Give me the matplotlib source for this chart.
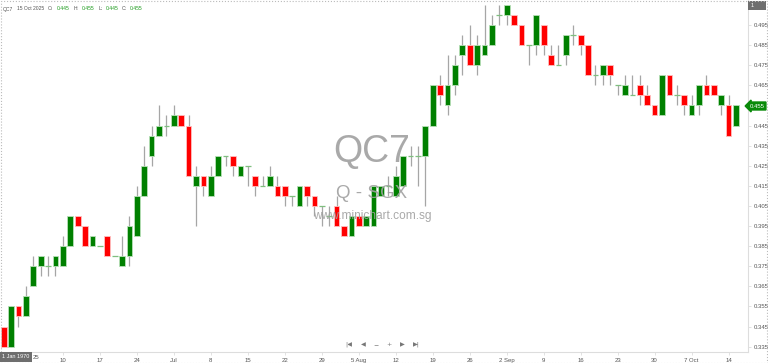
import matplotlib
matplotlib.use("Agg")
import matplotlib.pyplot as plt
from matplotlib.patches import Rectangle
import pandas as pd

plt.rcParams['font.family'] = ['Liberation Sans', 'DejaVu Sans']

dates = pd.bdate_range("2025-05-29", "2025-10-15")

opens = [0.345, 0.335, 0.355, 0.350, 0.365, 0.375, 0.375, 0.375, 0.375, 0.385,
         0.400, 0.395, 0.385, 0.385, 0.390, 0.380, 0.375, 0.380, 0.390, 0.410,
         0.430, 0.440, 0.445, 0.445, 0.450, 0.445, 0.415, 0.420, 0.410, 0.420,
         0.430, 0.430, 0.420, 0.425, 0.420, 0.415, 0.415, 0.415, 0.415, 0.410,
         0.405, 0.415, 0.410, 0.405, 0.400, 0.405, 0.395, 0.390, 0.400, 0.395,
         0.395, 0.410, 0.415, 0.410, 0.415, 0.430, 0.430, 0.430, 0.445, 0.465,
         0.455, 0.465, 0.480, 0.485, 0.475, 0.480, 0.485, 0.500, 0.500, 0.500,
         0.495, 0.485, 0.485, 0.495, 0.480, 0.475, 0.480, 0.490, 0.490, 0.485,
         0.470, 0.470, 0.475, 0.465, 0.460, 0.460, 0.465, 0.460, 0.455, 0.450,
         0.470, 0.460, 0.460, 0.450, 0.455, 0.465, 0.465, 0.455, 0.455, 0.445]
highs = [0.345, 0.355, 0.355, 0.365, 0.380, 0.380, 0.380, 0.380, 0.390, 0.400,
         0.400, 0.395, 0.390, 0.385, 0.390, 0.380, 0.390, 0.400, 0.415, 0.435,
         0.445, 0.455, 0.450, 0.455, 0.450, 0.450, 0.425, 0.420, 0.425, 0.430,
         0.430, 0.430, 0.425, 0.425, 0.420, 0.420, 0.425, 0.420, 0.415, 0.410,
         0.415, 0.415, 0.410, 0.405, 0.405, 0.410, 0.395, 0.400, 0.400, 0.400,
         0.415, 0.415, 0.420, 0.425, 0.430, 0.435, 0.435, 0.445, 0.465, 0.470,
         0.480, 0.480, 0.490, 0.495, 0.490, 0.505, 0.500, 0.505, 0.505, 0.500,
         0.495, 0.485, 0.500, 0.495, 0.485, 0.485, 0.490, 0.495, 0.490, 0.485,
         0.475, 0.475, 0.475, 0.465, 0.470, 0.470, 0.470, 0.465, 0.455, 0.470,
         0.470, 0.465, 0.460, 0.460, 0.465, 0.470, 0.465, 0.460, 0.460, 0.455]
lows = [0.335, 0.335, 0.345, 0.350, 0.365, 0.370, 0.370, 0.370, 0.375, 0.385,
        0.395, 0.385, 0.385, 0.385, 0.380, 0.380, 0.375, 0.375, 0.390, 0.410,
        0.425, 0.440, 0.440, 0.445, 0.445, 0.420, 0.395, 0.410, 0.410, 0.420,
        0.425, 0.420, 0.420, 0.415, 0.410, 0.415, 0.415, 0.410, 0.405, 0.405,
        0.405, 0.405, 0.400, 0.395, 0.395, 0.395, 0.390, 0.390, 0.395, 0.395,
        0.395, 0.410, 0.410, 0.410, 0.415, 0.425, 0.415, 0.405, 0.445, 0.455,
        0.450, 0.460, 0.470, 0.475, 0.470, 0.480, 0.485, 0.495, 0.495, 0.495,
        0.485, 0.475, 0.480, 0.480, 0.475, 0.475, 0.475, 0.485, 0.480, 0.470,
        0.465, 0.465, 0.465, 0.460, 0.460, 0.460, 0.455, 0.455, 0.450, 0.450,
        0.460, 0.455, 0.450, 0.450, 0.450, 0.460, 0.460, 0.450, 0.440, 0.445]
closes = [0.335, 0.355, 0.350, 0.360, 0.375, 0.380, 0.375, 0.380, 0.385, 0.400,
          0.395, 0.385, 0.390, 0.385, 0.380, 0.380, 0.380, 0.395, 0.410, 0.425,
          0.440, 0.445, 0.445, 0.450, 0.445, 0.420, 0.420, 0.415, 0.420, 0.430,
          0.430, 0.425, 0.425, 0.425, 0.415, 0.415, 0.420, 0.410, 0.410, 0.410,
          0.415, 0.410, 0.405, 0.405, 0.400, 0.395, 0.390, 0.400, 0.395, 0.400,
          0.415, 0.415, 0.415, 0.420, 0.430, 0.430, 0.430, 0.445, 0.465, 0.460,
          0.465, 0.475, 0.485, 0.475, 0.485, 0.485, 0.495, 0.500, 0.505, 0.495,
          0.485, 0.485, 0.500, 0.485, 0.475, 0.475, 0.490, 0.490, 0.485, 0.470,
          0.470, 0.475, 0.470, 0.465, 0.465, 0.460, 0.460, 0.455, 0.450, 0.470,
          0.460, 0.460, 0.455, 0.455, 0.465, 0.460, 0.460, 0.460, 0.440, 0.455]

tick_dates = ["2025-06-10", "2025-06-17", "2025-06-24", "2025-07-01",
              "2025-07-08", "2025-07-15", "2025-07-22", "2025-07-29", "2025-08-05",
              "2025-08-12", "2025-08-19", "2025-08-26", "2025-09-02", "2025-09-09",
              "2025-09-16", "2025-09-23", "2025-09-30", "2025-10-07", "2025-10-14"]
tick_labels = ["10", "17", "24", "Jul", "8", "15", "22", "29", "5 Aug",
               "12", "19", "26", "2 Sep", "9", "16", "23", "30", "7 Oct", "14"]
price_ticks = [0.335, 0.345, 0.355, 0.365, 0.375, 0.385, 0.395, 0.405, 0.415, 0.425,
               0.435, 0.445, 0.455, 0.465, 0.475, 0.485, 0.495]
last_price = 0.455

W, H = 768, 363
fig = plt.figure(figsize=(W / 100, H / 100), dpi=100)
ax = fig.add_axes([0, 11 / H, 747.7 / W, 352 / H])

def px(x, y):
    return x / W, 1 - y / H

GREEN = '#008000'
RED = '#ff0000'
bw = 0.77
for i in range(len(dates)):
    o, h, l, c = opens[i], highs[i], lows[i], closes[i]
    ax.vlines(i, l, h, color='#a6a6a6', lw=0.9, zorder=1)
    if o == c:
        ax.hlines(o, i - bw / 2, i + bw / 2, color='#7fbf7f', lw=0.9, zorder=2)
    else:
        up = c > o
        ax.add_patch(Rectangle((i - bw / 2, min(o, c)), bw, abs(c - o),
                               facecolor=GREEN if up else RED,
                               edgecolor='#b8e0b8' if up else '#ffc0c0',
                               lw=0.6, zorder=2))

ax.set_xlim(-0.5, 100.58)
ax.set_ylim(0.495 - 327 / 2010, 0.495 + 25 / 2010)

ax.set_xticks(dates.get_indexer(pd.to_datetime(tick_dates)))
ax.set_xticklabels(tick_labels)
ax.set_yticks(price_ticks)
# the last-price marker sits on top of its own tick label
ax.set_yticklabels(["" if abs(v - last_price) < 1e-9 else f"{v:.3f}" for v in price_ticks])
ax.yaxis.tick_right()
ax.tick_params(axis='both', labelsize=4.3, colors='#dddddd', labelcolor='#555555',
               length=2.5, width=0.6, pad=1.5)
for s in ['left', 'top']:
    ax.spines[s].set_visible(False)
for s in ['right', 'bottom']:
    ax.spines[s].set_color('#dddddd')
    ax.spines[s].set_linewidth(0.8)

# watermark
fig.text(*px(372, 152), "QC7", fontsize=27, color='#a0a0a0', ha='center', va='center', alpha=0.9)
fig.text(*px(372, 193), "Q - SGX", fontsize=13.5, color='#a0a0a0', ha='center', va='center', alpha=0.9)
fig.text(*px(372, 216), "www.minichart.com.sg", fontsize=8.6, color='#a0a0a0', ha='center', va='center', alpha=0.9)

# navigation buttons
for x, s in [(349, "|◀"), (363, "◀"), (376, "−"), (389, "+"), (402, "▶"), (416, "▶|")]:
    fig.text(*px(x, 344.5), s, fontsize=4.5, color='#777777', ha='center', va='center',
             family=['DejaVu Sans'])

# header
header = [(2.5, "QC7", '#555555'), (17, "15 Oct 2025", '#555555'), (48, "O:", '#555555'),
          (57, "0.445", '#1a9a1a'), (74, "H:", '#555555'), (82, "0.455", '#1a9a1a'),
          (99, "L:", '#555555'), (106, "0.445", '#1a9a1a'), (122, "C:", '#555555'),
          (130, "0.455", '#1a9a1a')]
for x, s, col in header:
    fig.text(*px(x, 9), s, fontsize=3.6, color=col, ha='left', va='center')

# last price marker
fig.text(*px(757, 106), f"{last_price:.3f}", fontsize=4.3, color='white', ha='center', va='center',
         bbox=dict(boxstyle='larrow,pad=0.25', fc='#0a8a0a', ec='#0a8a0a'))

# top-right button
fig.patches.append(Rectangle(px(748, 10), 18 / W, 9 / H, transform=fig.transFigure,
                             facecolor='#6e6e6e', edgecolor='none'))
fig.text(*px(752, 5.5), "1", fontsize=4, color='white', ha='center', va='center')

# date label with the partly hidden year label next to it
fig.text(*px(36, 357.5), "25", fontsize=4.3, color='#555555', ha='center', va='center')
fig.patches.append(Rectangle(px(0, 362), 32 / W, 10 / H, transform=fig.transFigure,
                             facecolor='#6e6e6e', edgecolor='none', zorder=5))
fig.text(*px(16, 357), "1 Jan 1970", fontsize=4, color='white', ha='center', va='center', zorder=6)

# dotted border
fig.patches.append(Rectangle((0.001, 0.001), 0.998, 0.997, transform=fig.transFigure,
                             facecolor='none', edgecolor='#bbbbbb', lw=0.8, ls=':'))

fig.savefig("out.png", dpi=100)
